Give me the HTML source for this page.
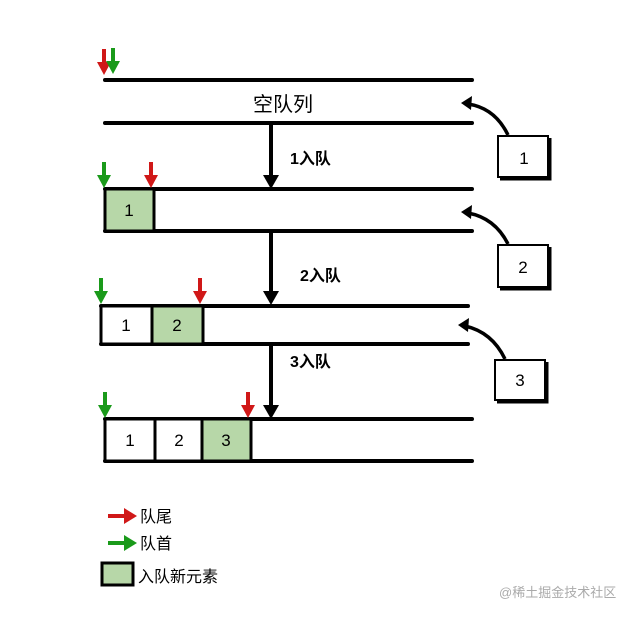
<!DOCTYPE html>
<html><head><meta charset="utf-8"><style>
html,body{margin:0;padding:0;background:#fff;}
svg{display:block;}
text{font-family:"Liberation Sans","Noto Sans CJK SC",sans-serif;}
</style></head><body>
<svg width="635" height="617" viewBox="0 0 635 617" xmlns="http://www.w3.org/2000/svg">
<defs>
<g id="dR"><line x1="0" y1="-26" x2="0" y2="-10" stroke="#d01818" stroke-width="4"/><polygon points="-7,-13 7,-13 0,0" fill="#d01818"/></g>
<g id="dG"><line x1="0" y1="-26" x2="0" y2="-10" stroke="#1a9a1a" stroke-width="4"/><polygon points="-7,-13 7,-13 0,0" fill="#1a9a1a"/></g>
<g id="dK"><polygon points="-8,-14 8,-14 0,0" fill="#000"/></g>
</defs>
<g stroke="#000" stroke-width="4" stroke-linecap="round">
<line x1="105" y1="80" x2="472" y2="80"/><line x1="105" y1="123" x2="472" y2="123"/>
<line x1="105" y1="189" x2="472" y2="189"/><line x1="105" y1="231" x2="472" y2="231"/>
<line x1="101" y1="306" x2="468" y2="306"/><line x1="101" y1="344" x2="468" y2="344"/>
<line x1="105" y1="419" x2="472" y2="419"/><line x1="105" y1="461" x2="472" y2="461"/>
<line x1="271" y1="123" x2="271" y2="176"/><line x1="271" y1="233" x2="271" y2="292"/><line x1="271" y1="346" x2="271" y2="406"/>
</g>
<use href="#dK" x="271" y="189"/><use href="#dK" x="271" y="305"/><use href="#dK" x="271" y="419"/>
<text x="283" y="111" font-size="20" text-anchor="middle">空队列</text>
<text x="290" y="164" font-size="16" font-weight="bold">1入队</text>
<text x="300" y="281" font-size="16" font-weight="bold">2入队</text>
<text x="290" y="367" font-size="16" font-weight="bold">3入队</text>
<g stroke="#000" stroke-width="3">
<rect x="105" y="189" width="49" height="42" fill="#b7d7a8"/>
<rect x="101" y="306" width="51" height="38" fill="#fff"/>
<rect x="152" y="306" width="51" height="38" fill="#b7d7a8"/>
<rect x="105" y="419" width="50" height="42" fill="#fff"/>
<rect x="155" y="419" width="47" height="42" fill="#fff"/>
<rect x="202" y="419" width="49" height="42" fill="#b7d7a8"/>
</g>
<g font-size="17" text-anchor="middle">
<text x="129" y="216">1</text>
<text x="126" y="331">1</text><text x="177" y="331">2</text>
<text x="130" y="446">1</text><text x="179" y="446">2</text><text x="226" y="446">3</text>
</g>
<use href="#dR" x="104" y="75"/><use href="#dG" x="113" y="74"/>
<use href="#dG" x="104" y="188"/><use href="#dR" x="151" y="188"/>
<use href="#dG" x="101" y="304"/><use href="#dR" x="200" y="304"/>
<use href="#dG" x="105" y="418"/><use href="#dR" x="248" y="418"/>
<g stroke="#000" fill="#fff">
<rect x="498" y="136" width="50" height="41" stroke-width="2"/><path d="M500 179 H550 V138" stroke-width="3" fill="none"/>
<rect x="498" y="245" width="50" height="42" stroke-width="2"/><path d="M500 289 H550 V247" stroke-width="3" fill="none"/>
<rect x="495" y="360" width="50" height="40" stroke-width="2"/><path d="M497 402 H547 V362" stroke-width="3" fill="none"/>
<path d="M508 135 Q495 108 468 104" stroke-width="3.5" fill="none"/>
<path d="M508 244 Q495 218 468 213" stroke-width="3.5" fill="none"/>
<path d="M505 359 Q492 332 465 326" stroke-width="3.5" fill="none"/>
</g>
<polygon points="461,103 472,96 471,110" fill="#000"/>
<polygon points="461,212 472,205 471,219" fill="#000"/>
<polygon points="458,325 469,318 468,332" fill="#000"/>
<g font-size="17" text-anchor="middle"><text x="524" y="164">1</text><text x="523" y="273">2</text><text x="520" y="386">3</text></g>
<line x1="108" y1="516" x2="126" y2="516" stroke="#d01818" stroke-width="4"/><polygon points="124,508 137,516 124,524" fill="#d01818"/>
<line x1="108" y1="543" x2="126" y2="543" stroke="#1a9a1a" stroke-width="4"/><polygon points="124,535 137,543 124,551" fill="#1a9a1a"/>
<rect x="102" y="563" width="31" height="22" fill="#b7d7a8" stroke="#000" stroke-width="3"/>
<g font-size="16"><text x="140" y="522">队尾</text><text x="140" y="549">队首</text><text x="138" y="582">入队新元素</text></g>
<text x="499" y="597" font-size="13" fill="#aaa">@稀土掘金技术社区</text>
</svg>
</body></html>
